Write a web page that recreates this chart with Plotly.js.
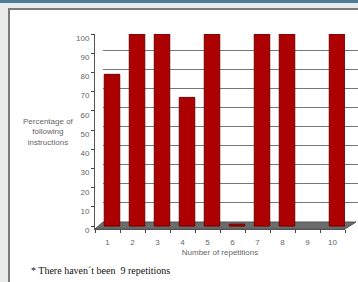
<!DOCTYPE html>
<html><head><meta charset="utf-8">
<script src="https://cdn.plot.ly/plotly-3.0.1.min.js"></script>
<style>html,body{margin:0;padding:0;background:#e9ebeb}#c{width:358px;height:282px}</style>
</head><body><div id="c"></div>
<script>
var categories = ['1','2','3','4','5','6','7','8','9','10'];
var percentages = [79, 100, 100, 67, 100, 1, 100, 100, null, 100];
var yTicks = [0,10,20,30,40,50,60,70,80,90,100];
var yTitle = 'Percentage of<br>following<br>instructions';
var xTitle = 'Number of repetitions';
var footnote = '* There haven\u00b4t been  9 repetitions';

var W = 358, H = 282;
function px(x){ return x / W; }
function py(y){ return 1 - y / H; }
function sans(){ return {family: 'Liberation Sans, Arial, sans-serif', size: 8, color: '#666666'}; }

var floorPath = 'M ' + px(95) + ',' + py(229) + ' L ' + px(345) + ',' + py(229) +
  ' L ' + px(356) + ',' + py(222) + ' L ' + px(103) + ',' + py(222) + ' Z';

var data = [
  {type: 'scatter', mode: 'markers', x: [0.5], y: [-50], xaxis: 'x', yaxis: 'y',
   marker: {opacity: 0}, hoverinfo: 'skip', cliponaxis: true},
  {type: 'bar', x: categories, y: percentages, xaxis: 'x2', yaxis: 'y2',
   width: 0.62, offset: -0.13,
   marker: {color: '#ad0000', line: {color: '#6e0000', width: 1}},
   hoverinfo: 'x+y'}
];

var layout = {
  width: W, height: H,
  margin: {l: 0, r: 0, t: 0, b: 0},
  paper_bgcolor: '#e9ebeb', plot_bgcolor: 'rgba(0,0,0,0)',
  showlegend: false,
  xaxis: {domain: [px(103), 1], range: [0, 1], showgrid: false, zeroline: false,
          showticklabels: false, ticks: '', anchor: 'y', fixedrange: true},
  yaxis: {domain: [py(222), py(31)], range: [0, 100], tickvals: yTicks, showgrid: true,
          gridcolor: '#777777', gridwidth: 1, zeroline: false, showticklabels: false,
          ticks: '', anchor: 'x', fixedrange: true},
  xaxis2: {domain: [px(95), px(345)], range: [-0.5, 9.5], type: 'category',
           anchor: 'y2', showline: true, linecolor: '#555', linewidth: 1,
           ticks: 'outside', tickson: 'boundaries', ticklen: 3, tickcolor: '#444',
           ticklabelstandoff: 5,
           tickfont: sans(), showgrid: false, zeroline: false,
           title: {text: xTitle, font: sans(), standoff: 3}},
  yaxis2: {domain: [py(229), py(34)], range: [-1.5, 100], anchor: 'x2',
           tickvals: yTicks, ticktext: yTicks.map(String), showgrid: false, zeroline: false,
           showline: true, linecolor: '#555', linewidth: 1, ticks: 'outside', ticklen: 3,
           tickcolor: '#444', ticklabelshift: 4, tickfont: sans()},
  shapes: [
    {type: 'rect', xref: 'paper', yref: 'paper', x0: px(9), x1: 1.05, y0: -0.05, y1: py(9),
     fillcolor: '#ffffff', line: {color: '#7a7a7a', width: 2}, layer: 'below'},
    {type: 'rect', xref: 'paper', yref: 'paper', x0: 0, x1: 1, y0: py(3), y1: 1,
     fillcolor: '#4b7b98', line: {width: 0}, layer: 'below'},
    {type: 'path', xref: 'paper', yref: 'paper', path: floorPath,
     fillcolor: '#6c6c6c', line: {color: '#555', width: 1}, layer: 'below'}
  ],
  annotations: [
    {xref: 'paper', yref: 'paper', x: px(48), y: py(132), text: yTitle, showarrow: false,
     font: sans(), align: 'center', xanchor: 'center', yanchor: 'middle'},
    {xref: 'paper', yref: 'paper', x: px(29), y: py(270), text: footnote, showarrow: false,
     font: {family: 'Liberation Serif, Times New Roman, serif', size: 10, color: '#111111'},
     xanchor: 'left', yanchor: 'middle'}
  ]
};
Plotly.newPlot('c', data, layout, {displayModeBar: false, staticPlot: true});
</script></body></html>
